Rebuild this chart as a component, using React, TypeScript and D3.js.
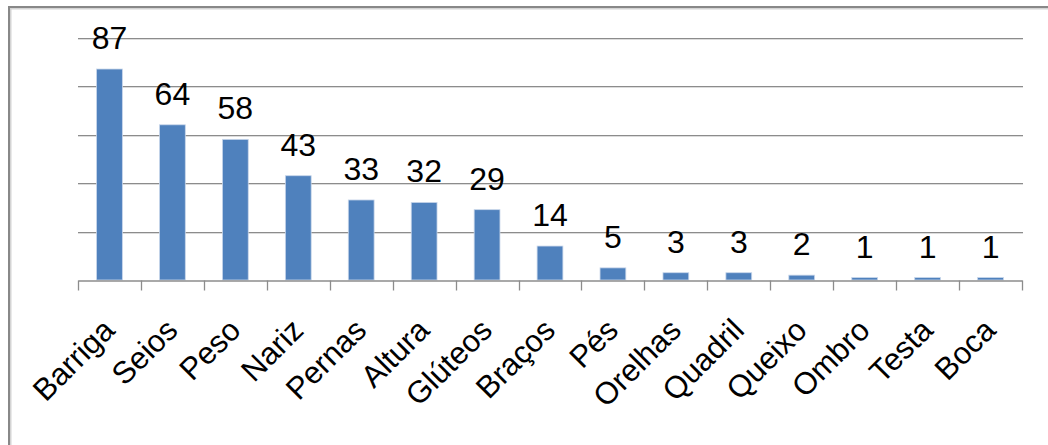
import React, { useEffect, useRef } from "react";
import * as d3 from "d3";

const categories = [
  "Barriga", "Seios", "Peso", "Nariz", "Pernas", "Altura", "Glúteos", "Braços",
  "Pés", "Orelhas", "Quadril", "Queixo", "Ombro", "Testa", "Boca",
];
const values = [87, 64, 58, 43, 33, 32, 29, 14, 5, 3, 3, 2, 1, 1, 1];
const gridTicks = [20, 40, 60, 80, 100];

export default function App() {
  const ref = useRef<SVGSVGElement>(null);

  useEffect(() => {
    const svg = d3.select(ref.current);
    svg.selectAll("*").remove();

    const width = 1048;
    const height = 445;
    const left = 78;
    const right = 1022;
    const baseY = 280;
    const topY = 37.5;
    const font = "'Liberation Sans', Arial, sans-serif";

    svg.attr("width", width).attr("height", height);

    svg.append("rect").attr("width", width).attr("height", height).attr("fill", "#fff");

    // outer frame (runs off the picture at right and bottom)
    svg
      .append("rect")
      .attr("x", 10.5)
      .attr("y", 8.5)
      .attr("width", width + 20)
      .attr("height", height + 20)
      .attr("fill", "none")
      .attr("stroke", "#d4d4d4")
      .attr("stroke-width", 2);
    svg
      .append("rect")
      .attr("x", 9)
      .attr("y", 7)
      .attr("width", width + 20)
      .attr("height", height + 20)
      .attr("fill", "none")
      .attr("stroke", "#888")
      .attr("stroke-width", 2);

    const x = d3.scaleBand<string>().domain(categories).range([left, right]).paddingInner(0.59).paddingOuter(0.295);
    const band = d3.scaleBand<string>().domain(categories).range([left, right]);
    const y = d3.scaleLinear().domain([0, 100]).range([baseY, topY]);

    // gridlines
    const grid = svg.append("g");
    gridTicks.forEach((t) => {
      grid
        .append("line")
        .attr("x1", left)
        .attr("x2", right + 1)
        .attr("y1", Math.round(y(t)) + 1.5)
        .attr("y2", Math.round(y(t)) + 1.5)
        .attr("stroke", "#dcdcdc")
        .attr("stroke-width", 1);
      grid
        .append("line")
        .attr("x1", left)
        .attr("x2", right + 1)
        .attr("y1", Math.round(y(t)) + 0.5)
        .attr("y2", Math.round(y(t)) + 0.5)
        .attr("stroke", "#8c8c8c")
        .attr("stroke-width", 1);
    });

    // bars
    svg
      .append("g")
      .selectAll("rect")
      .data(values)
      .join("rect")
      .attr("x", (_, i) => x(categories[i])!)
      .attr("y", (d) => y(d))
      .attr("width", x.bandwidth())
      .attr("height", (d) => baseY - y(d))
      .attr("fill", "#4f81bd")
      .attr("stroke", "#c8d6ea")
      .attr("stroke-width", 0.8);

    // value labels
    svg
      .append("g")
      .selectAll("text")
      .data(values)
      .join("text")
      .attr("x", (_, i) => x(categories[i])! + x.bandwidth() / 2)
      .attr("y", (d) => y(d) - 20)
      .attr("text-anchor", "middle")
      .attr("font-family", font)
      .attr("font-size", "32px")
      .attr("fill", "#000")
      .text((d) => d);

    // category axis
    const axis = svg
      .append("g")
      .attr("transform", `translate(0,${baseY + 0.5})`)
      .call(d3.axisBottom(band).tickSize(0).tickFormat(() => ""));
    axis.select(".domain").attr("stroke", "#8c8c8c").attr("stroke-width", 1.3);
    const edges = categories.map((c) => band(c)!).concat([right]);
    axis
      .selectAll("line.edge")
      .data(edges)
      .join("line")
      .attr("class", "edge")
      .attr("x1", (d) => Math.round(d) + 0.5)
      .attr("x2", (d) => Math.round(d) + 0.5)
      .attr("y1", 0)
      .attr("y2", 10)
      .attr("stroke", "#8c8c8c")
      .attr("stroke-width", 1.3);

    svg
      .append("g")
      .selectAll("text")
      .data(categories)
      .join("text")
      .attr("transform", (d) => `translate(${band(d)! + band.bandwidth() / 2 + 7},${baseY + 52}) rotate(-45)`)
      .attr("text-anchor", "end")
      .attr("font-family", font)
      .attr("font-size", "31px")
      .attr("fill", "#000")
      .text((d) => d);
  }, []);

  return (
    <svg ref={ref} style={{ position: "absolute", left: 0, top: 0, display: "block" }}></svg>
  );
}
